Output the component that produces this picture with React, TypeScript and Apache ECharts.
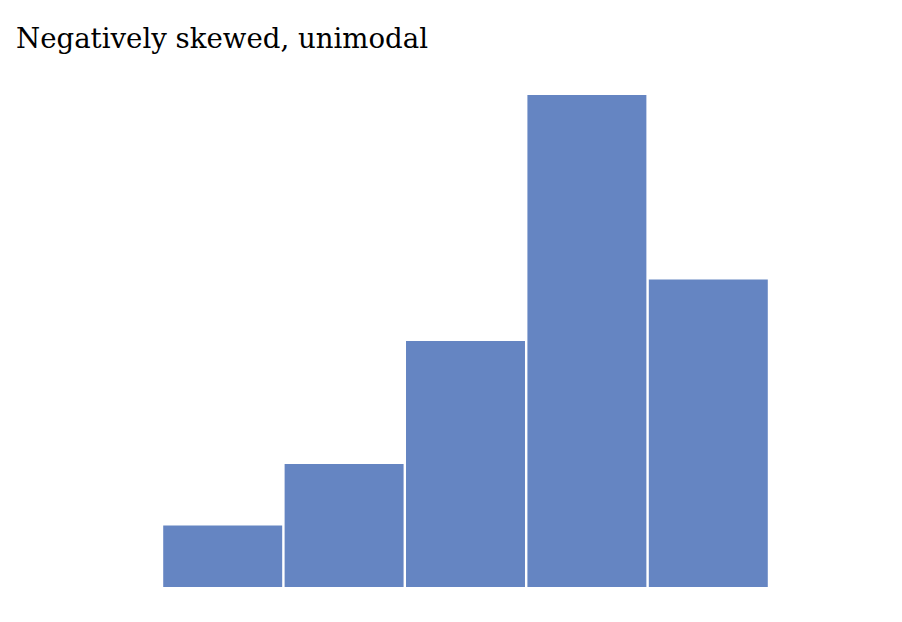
import React, { useEffect, useRef } from "react";
import * as echarts from "echarts";

const titleText = "Negatively skewed, unimodal";
const categories = ["1", "2", "3", "4", "5"];
const counts = [1, 2, 4, 8, 5];

export default function App() {
  const ref = useRef<HTMLDivElement>(null);
  useEffect(() => {
    if (!ref.current) return;
    const chart = echarts.init(ref.current, null, { renderer: "svg" });
    chart.setOption({
      animation: false,
      backgroundColor: "#ffffff",
      title: {
        text: titleText,
        left: 11,
        top: 19,
        textStyle: {
          fontFamily: "'DejaVu Serif', 'Liberation Serif', serif",
          fontWeight: "normal",
          fontSize: 27.6,
          color: "#000000",
        },
      },
      grid: { left: 162, right: 133, top: 95, bottom: 35 },
      xAxis: {
        type: "category",
        data: categories,
        show: false,
      },
      yAxis: {
        type: "value",
        min: 0,
        max: 8,
        show: false,
      },
      series: [
        {
          type: "bar",
          data: counts,
          barCategoryGap: "2%",
          itemStyle: { color: "#6585c2" },
        },
      ],
    });
    return () => chart.dispose();
  }, []);
  return (
    <div
      ref={ref}
      style={{ position: "fixed", left: 0, top: 0, width: 902, height: 622 }}
    />
  );
}
